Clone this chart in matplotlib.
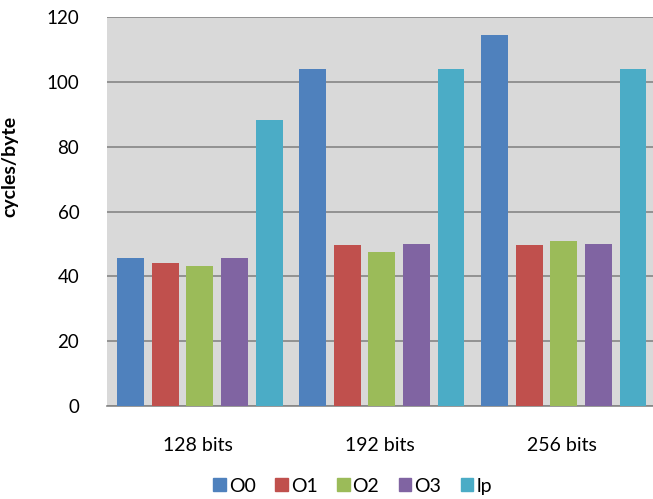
import numpy as np
import matplotlib.pyplot as plt
from matplotlib.patches import Patch

# datos del grafico
categorias = ['128 bits', '192 bits', '256 bits']
series = ['O0', 'O1', 'O2', 'O3', 'lp']
o0 = [45.7, 104.0, 114.3]
o1 = [44.0, 49.6, 49.7]
o2 = [43.1, 47.5, 51.0]
o3 = [45.7, 50.0, 50.1]
lp = [88.3, 104.0, 104.0]
valores = [o0, o1, o2, o3, lp]
colores = ['#4F81BD', '#C0504D', '#9BBB59', '#8064A2', '#4BACC6']

plt.rcParams['font.family'] = ['Lato', 'DejaVu Sans']

fig = plt.figure(figsize=(6.53, 4.99), dpi=100)
ax = fig.add_axes([0.164, 0.186, 0.836, 0.780])
ax.set_facecolor('#D9D9D9')

x = np.arange(len(categorias))
paso = 0.19
ancho = 0.148
for i, (nombre, vals) in enumerate(zip(series, valores)):
    ax.bar(x + (i - 2) * paso + 0.01, vals, ancho, color=colores[i], label=nombre, zorder=3)

ax.set_xlim(-0.5, 2.5)
ax.set_ylim(0, 120)
ax.set_yticks(range(0, 121, 20))
ax.yaxis.grid(True, color='#868686', linewidth=1.2, zorder=1)
ax.set_axisbelow(True)
for s in ['top', 'right', 'left']:
    ax.spines[s].set_visible(False)
ax.spines['bottom'].set_color('#868686')
ax.spines['bottom'].set_linewidth(1.2)

ax.set_xticks(x)
ax.set_xticklabels(categorias, fontsize=14)
ax.tick_params(axis='x', length=0, pad=22)
ax.tick_params(axis='y', length=0, pad=20, labelsize=13.5)
ax.set_ylabel('cycles/byte', fontsize=14, fontweight='bold')
ax.yaxis.set_label_coords(-0.163, 0.617)

handles = [Patch(color=c, label=n) for c, n in zip(colores, series)]
fig.legend(handles=handles, loc='center', bbox_to_anchor=(0.54, 0.026), ncol=5,
           frameon=False, fontsize=14, handlelength=0.65, handleheight=0.65,
           handletextpad=0.15, columnspacing=1.0)

plt.savefig('out.png', dpi=100)
